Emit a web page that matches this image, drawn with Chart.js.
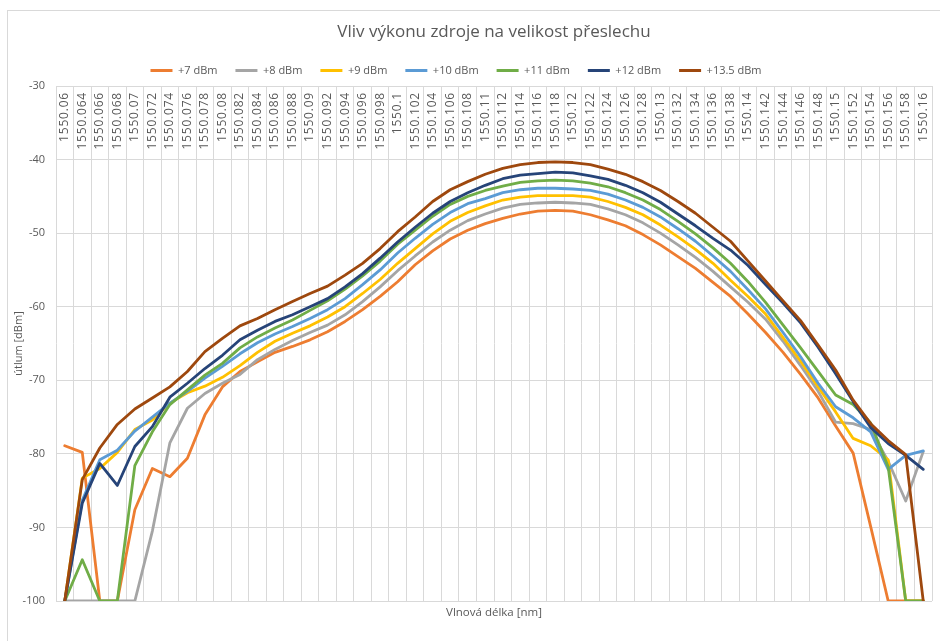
<!DOCTYPE html>
<html>
<head>
<meta charset="utf-8">
<title>Vliv výkonu zdroje na velikost přeslechu</title>
<script src="https://cdn.jsdelivr.net/npm/chart.js@4.4.1/dist/chart.umd.min.js"></script>
<style>
  html, body { margin: 0; padding: 0; background: #fff; overflow: hidden; }
  #frame { position: absolute; left: 7px; top: 10px; width: 940px; height: 640px; border: 1px solid #d9d9d9; }
  #chart { position: absolute; left: 0; top: 0; }
</style>
</head>
<body>
<div id="frame"></div>
<canvas id="chart" width="940" height="641"></canvas>
<script>
  // wavelength categories [nm] (1550.062 is not in the measurement)
  var wavelengths = ['1550.06', '1550.064', '1550.066', '1550.068', '1550.07', '1550.072', '1550.074', '1550.076',
    '1550.078', '1550.08', '1550.082', '1550.084', '1550.086', '1550.088', '1550.09', '1550.092', '1550.094',
    '1550.096', '1550.098', '1550.1', '1550.102', '1550.104', '1550.106', '1550.108', '1550.11', '1550.112',
    '1550.114', '1550.116', '1550.118', '1550.12', '1550.122', '1550.124', '1550.126', '1550.128', '1550.13',
    '1550.132', '1550.134', '1550.136', '1550.138', '1550.14', '1550.142', '1550.144', '1550.146', '1550.148',
    '1550.15', '1550.152', '1550.154', '1550.156', '1550.158', '1550.16'];

  // útlum [dBm] per source power
  var p7 = [-78.9, -79.8, -100, -100, -87.6, -82.0, -83.1, -80.6, -74.7, -70.9, -68.8, -67.5, -66.2, -65.4, -64.5,
    -63.4, -62.0, -60.4, -58.6, -56.6, -54.3, -52.4, -50.8, -49.6, -48.7, -48.0, -47.4, -47.0, -46.9, -47.0, -47.5,
    -48.2, -49.0, -50.2, -51.6, -53.2, -54.8, -56.7, -58.6, -61.0, -63.5, -66.2, -69.2, -72.4, -76.2, -79.9, -89.9,
    -100, -100, -100];
  var p8 = [-100, -100, -100, -100, -100, -90.5, -78.5, -73.8, -71.8, -70.4, -69.2, -67.2, -65.8, -64.6, -63.5,
    -62.5, -61.1, -59.3, -57.3, -55.1, -53.1, -51.2, -49.6, -48.3, -47.4, -46.6, -46.1, -45.9, -45.8, -45.9, -46.1,
    -46.7, -47.5, -48.6, -50.0, -51.6, -53.3, -55.2, -57.3, -59.4, -61.7, -64.7, -68.0, -71.5, -75.7, -75.9, -76.7,
    -81.0, -86.4, -79.7];
  var p9 = [-100, -83.3, -82.0, -79.8, -76.7, -75.4, -73.1, -71.7, -70.8, -69.6, -68.0, -66.2, -64.7, -63.6, -62.6,
    -61.4, -60.0, -58.2, -56.3, -54.1, -52.1, -50.1, -48.4, -47.2, -46.3, -45.5, -45.1, -44.9, -44.9, -44.9, -45.1,
    -45.7, -46.5, -47.5, -48.9, -50.5, -52.2, -54.1, -56.4, -58.6, -61.0, -64.2, -67.4, -70.9, -74.3, -77.9, -78.9,
    -80.8, -100, -100];
  var p10 = [-100, -86.3, -80.8, -79.5, -76.9, -75.0, -73.1, -71.5, -69.7, -68.1, -66.4, -64.9, -63.7, -62.7, -61.6,
    -60.4, -58.9, -57.0, -55.0, -52.7, -50.7, -48.8, -47.2, -46.0, -45.3, -44.5, -44.1, -43.9, -43.9, -44.0, -44.2,
    -44.7, -45.5, -46.5, -47.8, -49.4, -51.1, -53.1, -55.2, -57.7, -60.3, -63.5, -66.8, -70.4, -73.6, -75.1, -77.0,
    -82.1, -80.2, -79.6];
  var p11 = [-100, -94.4, -100, -100, -81.6, -77.0, -73.3, -71.3, -69.3, -67.7, -65.6, -64.1, -62.9, -61.8, -60.5,
    -59.2, -57.6, -55.8, -53.8, -51.5, -49.6, -47.7, -46.1, -45.0, -44.2, -43.6, -43.1, -42.9, -42.8, -42.9, -43.2,
    -43.7, -44.5, -45.5, -46.8, -48.4, -50.1, -52.0, -54.1, -56.6, -59.4, -62.5, -65.6, -68.8, -72.0, -73.3, -75.8,
    -81.8, -100, -100];
  var p12 = [-100, -86.7, -81.3, -84.3, -79.0, -76.3, -72.3, -70.4, -68.4, -66.6, -64.5, -63.2, -62.0, -61.1, -60.0,
    -58.9, -57.3, -55.5, -53.4, -51.2, -49.2, -47.3, -45.7, -44.5, -43.5, -42.6, -42.1, -41.9, -41.7, -41.8, -42.2,
    -42.7, -43.5, -44.5, -45.8, -47.4, -49.0, -50.7, -52.3, -54.4, -57.0, -59.5, -62.2, -65.5, -69.1, -72.9, -76.4,
    -78.6, -80.2, -82.1];
  var p135 = [-100, -83.5, -79.2, -76.0, -73.9, -72.4, -70.9, -68.8, -66.1, -64.3, -62.6, -61.6, -60.4, -59.3, -58.2,
    -57.2, -55.7, -54.1, -52.1, -49.8, -47.8, -45.7, -44.1, -43.0, -42.0, -41.2, -40.7, -40.4, -40.3, -40.4, -40.7,
    -41.3, -42.0, -43.0, -44.2, -45.7, -47.3, -49.2, -51.1, -53.8, -56.5, -59.2, -61.9, -65.2, -68.6, -72.7, -75.9,
    -78.2, -80.1, -100];

  var seriesNames = ['+7 dBm', '+8 dBm', '+9 dBm', '+10 dBm', '+11 dBm', '+12 dBm', '+13.5 dBm'];
  var seriesData = [p7, p8, p9, p10, p11, p12, p135];
  var seriesColors = ['#ED7D31', '#A5A5A5', '#FFC000', '#5B9BD5', '#70AD47', '#264478', '#9E480E'];

  var TEXT = '#595959', GRID = '#d9d9d9';
  Chart.defaults.font.family = "'Open Sans', sans-serif";
  Chart.defaults.color = TEXT;

  // Excel puts the category labels inside the plot, just under the top edge
  var innerLabels = {
    id: 'innerLabels',
    afterLayout: function (chart) {
      // legend sits a little left of centre in the original
      chart.legend.left -= 10;
      chart.legend.right -= 10;
    },
    beforeDatasetsDraw: function (chart) {
      var xs = chart.scales.x, ctx = chart.ctx, top = chart.chartArea.top;
      ctx.save();
      ctx.font = "12px 'Open Sans'";
      ctx.fillStyle = TEXT;
      ctx.textAlign = 'right';
      ctx.textBaseline = 'middle';
      if ('letterSpacing' in ctx) ctx.letterSpacing = '0.8px';
      xs.ticks.forEach(function (t, i) {
        ctx.save();
        ctx.translate(xs.getPixelForTick(i), top + 6);
        ctx.rotate(-Math.PI / 2);
        ctx.fillText(xs.getLabelForValue(t.value), 0, 0);
        ctx.restore();
      });
      ctx.restore();
    }
  };

  var datasets = seriesData.map(function (d, i) {
    return {
      label: seriesNames[i], data: d,
      borderColor: seriesColors[i], backgroundColor: seriesColors[i],
      borderWidth: 2.8, pointRadius: 0, pointHoverRadius: 0, tension: 0,
      borderJoinStyle: 'round', borderCapStyle: 'round',
      order: seriesData.length - 1 - i   // last series on top, like Excel
    };
  });

  new Chart(document.getElementById('chart').getContext('2d'), {
    type: 'line',
    data: { labels: wavelengths, datasets: datasets },
    plugins: [innerLabels],
    options: {
      responsive: false,
      animation: false,
      layout: { padding: { left: 0, right: 8, top: 0, bottom: 0 } },
      plugins: {
        tooltip: { enabled: false },
        title: {
          display: true, text: 'Vliv výkonu zdroje na velikost přeslechu', color: TEXT, fullSize: false,
          font: { size: 17, weight: 'normal' }, padding: { top: 22, bottom: 4.6 }
        },
        legend: {
          position: 'top',
          labels: {
            boxWidth: 22, boxHeight: 3, padding: 18, color: TEXT, font: { size: 11 },
            generateLabels: function (chart) {
              var items = Chart.defaults.plugins.legend.labels.generateLabels(chart);
              items.forEach(function (it) { it.lineWidth = 0; it.fillStyle = it.strokeStyle; });
              return items.sort(function (a, b) { return a.datasetIndex - b.datasetIndex; });
            }
          }
        }
      },
      scales: {
        x: {
          type: 'category', offset: true,
          grid: { offset: true, color: GRID, drawTicks: false },
          border: { display: false },
          ticks: { display: false, autoSkip: false },
          title: { display: true, text: 'Vlnová délka [nm]', color: TEXT, font: { size: 11.5 }, padding: { top: 5, bottom: 21 } },
          afterFit: function (s) { s.height = 40; }
        },
        y: {
          min: -100, max: -30,
          grid: { color: GRID, drawTicks: false },
          border: { display: false },
          ticks: { stepSize: 10, color: TEXT, font: { size: 11 }, padding: 11 },
          title: { display: true, text: 'útlum [dBm]', color: TEXT, font: { size: 11 }, padding: { top: 12, bottom: 0 } },
          afterFit: function (s) { s.width = 56; }
        }
      }
    }
  });
</script>
</body>
</html>
